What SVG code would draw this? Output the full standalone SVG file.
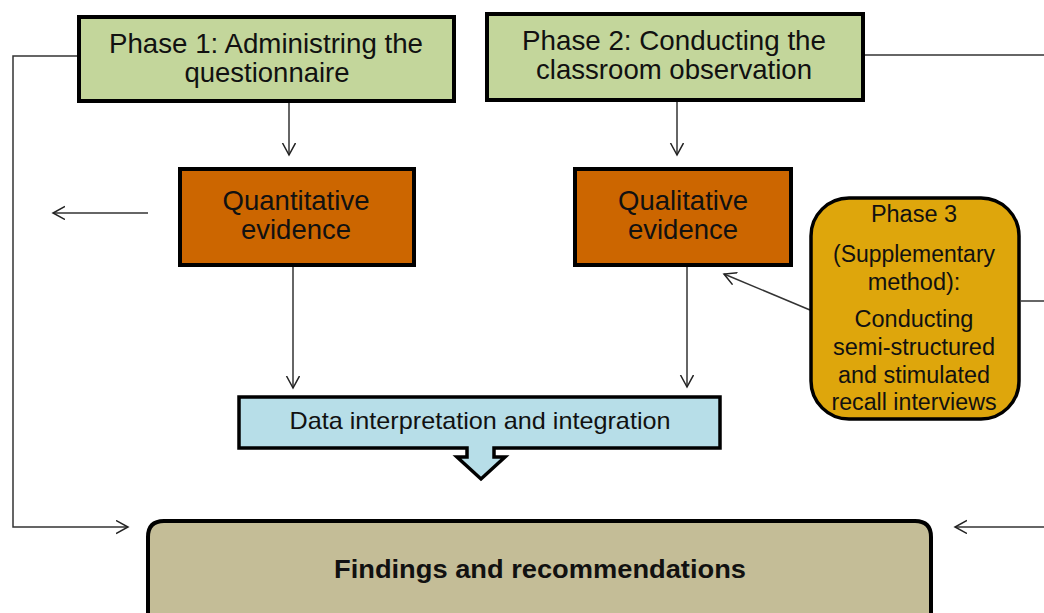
<svg xmlns="http://www.w3.org/2000/svg" width="1044" height="613" viewBox="0 0 1044 613">
<defs>
<marker id="arr" markerUnits="userSpaceOnUse" markerWidth="16" markerHeight="16" refX="12" refY="7" orient="auto">
<path d="M0,0.5 L12,7 L0,13.5" fill="none" stroke="#222" stroke-width="1.5"/>
</marker>
<style>
.box{stroke:#000;stroke-width:4}
.green{fill:#c3d69b}
.orange{fill:#cc6600}
.gold{fill:#dea60c;stroke:#000;stroke-width:3.5}
.blue{fill:#b7dee8;stroke:#000;stroke-width:3.5}
.tan{fill:#c4bd97;stroke:#000;stroke-width:4}
.t{font-family:"Liberation Sans",Arial,sans-serif;fill:#111;text-anchor:middle}
.big{font-size:27.5px}
.mid{font-size:23.5px}
.c{fill:none;stroke:#333;stroke-width:1.5}
</style>
</defs>
<rect width="1044" height="613" fill="#fff"/>
<g id="connectors">
<path class="c" d="M77,56 H13 V527 H128" marker-end="url(#arr)"/>
<path class="c" d="M289,103 V155" marker-end="url(#arr)"/>
<path class="c" d="M677,101 V155" marker-end="url(#arr)"/>
<path class="c" d="M148,213 H53" marker-end="url(#arr)"/>
<path class="c" d="M293,245 V388" marker-end="url(#arr)"/>
<path class="c" d="M687,245 V387" marker-end="url(#arr)"/>
<path class="c" d="M810,310 L724,274" marker-end="url(#arr)"/>
<path class="c" d="M865,55 H1044"/>
<path class="c" d="M1021,301 H1044"/>
<path class="c" d="M1044,527 H955" marker-end="url(#arr)"/>
</g>
<g id="phase1">
<rect class="box green" x="79" y="17" width="375" height="84"/>
<text class="t big" x="266" y="53" textLength="314" lengthAdjust="spacingAndGlyphs">Phase 1: Administring the</text>
<text class="t big" x="267" y="82" textLength="165" lengthAdjust="spacingAndGlyphs">questionnaire</text>
</g>
<g id="phase2">
<rect class="box green" x="487" y="14" width="376" height="86"/>
<text class="t big" x="674" y="50" textLength="304" lengthAdjust="spacingAndGlyphs">Phase 2: Conducting the</text>
<text class="t big" x="674" y="79" textLength="276" lengthAdjust="spacingAndGlyphs">classroom observation</text>
</g>
<g id="quantitative">
<rect class="box orange" x="180" y="169" width="234" height="96"/>
<text class="t big" x="296" y="210" textLength="147" lengthAdjust="spacingAndGlyphs">Quantitative</text>
<text class="t big" x="296" y="239" textLength="110" lengthAdjust="spacingAndGlyphs">evidence</text>
</g>
<g id="qualitative">
<rect class="box orange" x="575" y="169" width="216" height="96"/>
<text class="t big" x="683" y="210">Qualitative</text>
<text class="t big" x="683" y="239">evidence</text>
</g>
<g id="phase3">
<rect class="gold" x="811" y="198" width="208" height="221" rx="38"/>
<text class="t mid" x="914" y="222">Phase 3</text>
<text class="t mid" x="914" y="262" textLength="162" lengthAdjust="spacingAndGlyphs">(Supplementary</text>
<text class="t mid" x="914" y="290">method):</text>
<text class="t mid" x="914" y="327">Conducting</text>
<text class="t mid" x="914" y="355" textLength="162" lengthAdjust="spacingAndGlyphs">semi-structured</text>
<text class="t mid" x="914" y="383" textLength="152" lengthAdjust="spacingAndGlyphs">and stimulated</text>
<text class="t mid" x="914" y="410" textLength="165" lengthAdjust="spacingAndGlyphs">recall interviews</text>
</g>
<g id="data">
<path class="blue" d="M239,397 H720 V448 H494 V457 H505 L481,479 L457,457 H467 V448 H239 Z"/>
<text class="t" style="font-size:24px" x="480" y="429" textLength="381" lengthAdjust="spacingAndGlyphs">Data interpretation and integration</text>
</g>
<g id="findings">
<path class="tan" d="M148,640 V537 Q148,521 164,521 H915 Q931,521 931,537 V625 Q931,640 915,640 Z"/>
<text class="t" style="font-size:25px;font-weight:bold" x="540" y="578" textLength="412" lengthAdjust="spacingAndGlyphs">Findings and recommendations</text>
</g>
</svg>
